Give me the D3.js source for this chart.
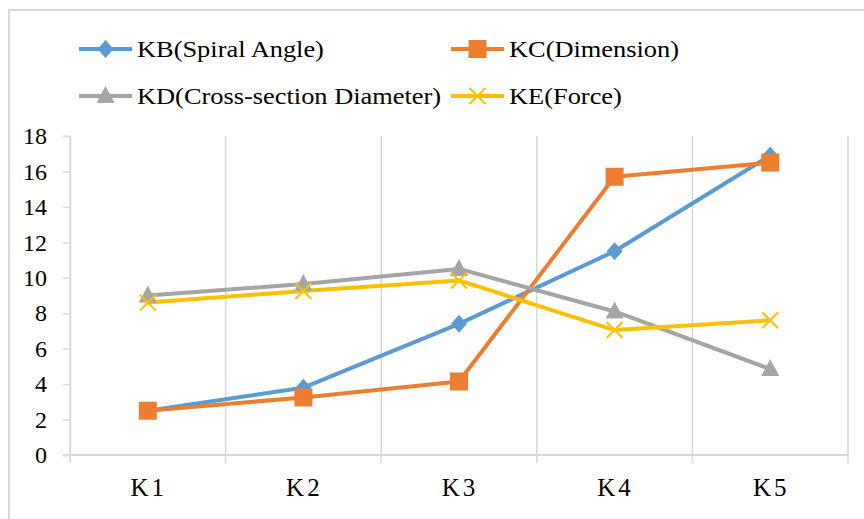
<!DOCTYPE html>
<html>
<head>
    <script src="https://d3js.org/d3.v7.min.js"></script>
    <style>
        body { margin: 0; background: #fff; }
    </style>
</head>
<body>
    <svg width="864" height="519" id="mainSvg"></svg>
    <script>
        // data
        const categories = ["K1", "K2", "K3", "K4", "K5"];
        const seriesNames = ["KB(Spiral Angle)", "KC(Dimension)", "KD(Cross-section Diameter)", "KE(Force)"];
        const kbValues = [2.5, 3.8, 7.4, 11.5, 16.9];
        const kcValues = [2.5, 3.25, 4.15, 15.7, 16.5];
        const kdValues = [9.0, 9.65, 10.5, 8.1, 4.85];
        const keValues = [8.6, 9.25, 9.85, 7.05, 7.6];
        const yTicks = [0, 2, 4, 6, 8, 10, 12, 14, 16, 18];

        const colors = ["#5B9BD5", "#ED7D31", "#A5A5A5", "#FFC000"];
        const markers = ["diamond", "square", "triangle", "cross"];
        const seriesValues = [kbValues, kcValues, kdValues, keValues];
        const FONT = "'Liberation Serif', 'Times New Roman', Times, serif";

        const svg = d3.select("#mainSvg");

        // outer chart border
        svg.append("rect")
            .attr("x", 9).attr("y", 10)
            .attr("width", 870).attr("height", 530)
            .attr("fill", "#fff")
            .attr("stroke", "#d9d9d9")
            .attr("stroke-width", 2);

        const plot = { left: 70, right: 848, top: 136, bottom: 455 };

        const xScale = d3.scaleBand()
            .domain(categories)
            .range([plot.left, plot.right]);
        const yScale = d3.scaleLinear()
            .domain([0, 18])
            .range([plot.bottom, plot.top]);

        const g = svg.append("g");

        // vertical gridlines at category boundaries
        const bounds = categories.map(c => xScale(c)).concat([plot.right]);
        g.selectAll(".vgrid")
            .data(bounds)
            .join("line")
            .attr("x1", d => d).attr("x2", d => d)
            .attr("y1", plot.top).attr("y2", plot.bottom + 8)
            .attr("stroke", "#d9d9d9")
            .attr("stroke-width", 1.5);

        // y axis with small ticks
        const yAxis = d3.axisLeft(yScale)
            .tickValues(yTicks)
            .tickSize(7)
            .tickPadding(16);
        const yAxisGroup = g.append("g")
            .attr("transform", `translate(${plot.left},0)`)
            .call(yAxis)
            .attr("font-family", FONT)
            .attr("font-size", 24);
        yAxisGroup.select(".domain").attr("stroke", "#d9d9d9").attr("stroke-width", 1.5);
        yAxisGroup.selectAll(".tick line").attr("stroke", "#d9d9d9").attr("stroke-width", 1.5);
        yAxisGroup.selectAll(".tick text").attr("fill", "#000");

        // x axis line
        g.append("line")
            .attr("x1", plot.left - 7).attr("x2", plot.right)
            .attr("y1", plot.bottom).attr("y2", plot.bottom)
            .attr("stroke", "#d9d9d9")
            .attr("stroke-width", 2);

        // x labels
        g.selectAll(".xlabel")
            .data(categories)
            .join("text")
            .attr("x", d => xScale(d) + xScale.bandwidth() / 2 + 1)
            .attr("y", 496)
            .attr("text-anchor", "middle")
            .attr("font-family", FONT)
            .attr("font-size", 25)
            .attr("letter-spacing", 3)
            .text(d => d);

        function drawMarker(sel, type, color) {
            if (type === "diamond") {
                sel.append("path")
                    .attr("d", "M0,-9L8,0L0,9L-8,0Z")
                    .attr("fill", color);
            } else if (type === "square") {
                sel.append("rect")
                    .attr("x", -9).attr("y", -9)
                    .attr("width", 18).attr("height", 18)
                    .attr("fill", color);
            } else if (type === "triangle") {
                sel.append("path")
                    .attr("d", "M0,-10L9,7L-9,7Z")
                    .attr("fill", color);
            } else {
                sel.append("path")
                    .attr("d", "M-8,-8L8,8M-8,8L8,-8")
                    .attr("stroke", color)
                    .attr("stroke-width", 2)
                    .attr("fill", "none");
            }
        }

        const line = d3.line()
            .x((d, i) => xScale(categories[i]) + xScale.bandwidth() / 2)
            .y(d => yScale(d));

        seriesValues.forEach((vals, s) => {
            g.append("path")
                .datum(vals)
                .attr("d", line)
                .attr("fill", "none")
                .attr("stroke", colors[s])
                .attr("stroke-width", 4)
                .attr("stroke-linejoin", "round");
        });
        seriesValues.forEach((vals, s) => {
            vals.forEach((v, i) => {
                const m = g.append("g")
                    .attr("transform", `translate(${xScale(categories[i]) + xScale.bandwidth() / 2},${yScale(v)})`);
                drawMarker(m, markers[s], colors[s]);
            });
        });

        // legend
        const legendPos = [[79, 49], [451, 49], [79, 96], [451, 96]];
        seriesNames.forEach((name, s) => {
            const lg = svg.append("g")
                .attr("transform", `translate(${legendPos[s][0]},${legendPos[s][1]})`);
            lg.append("line")
                .attr("x1", 0).attr("x2", 53)
                .attr("y1", 0).attr("y2", 0)
                .attr("stroke", colors[s])
                .attr("stroke-width", 4);
            const m = lg.append("g").attr("transform", "translate(26.5,0)");
            drawMarker(m, markers[s], colors[s]);
            lg.append("text")
                .attr("transform", "translate(58,8) scale(1.1,1)")
                .attr("font-family", FONT)
                .attr("font-size", 24)
                .text(name);
        });
    </script>
</body>
</html>
